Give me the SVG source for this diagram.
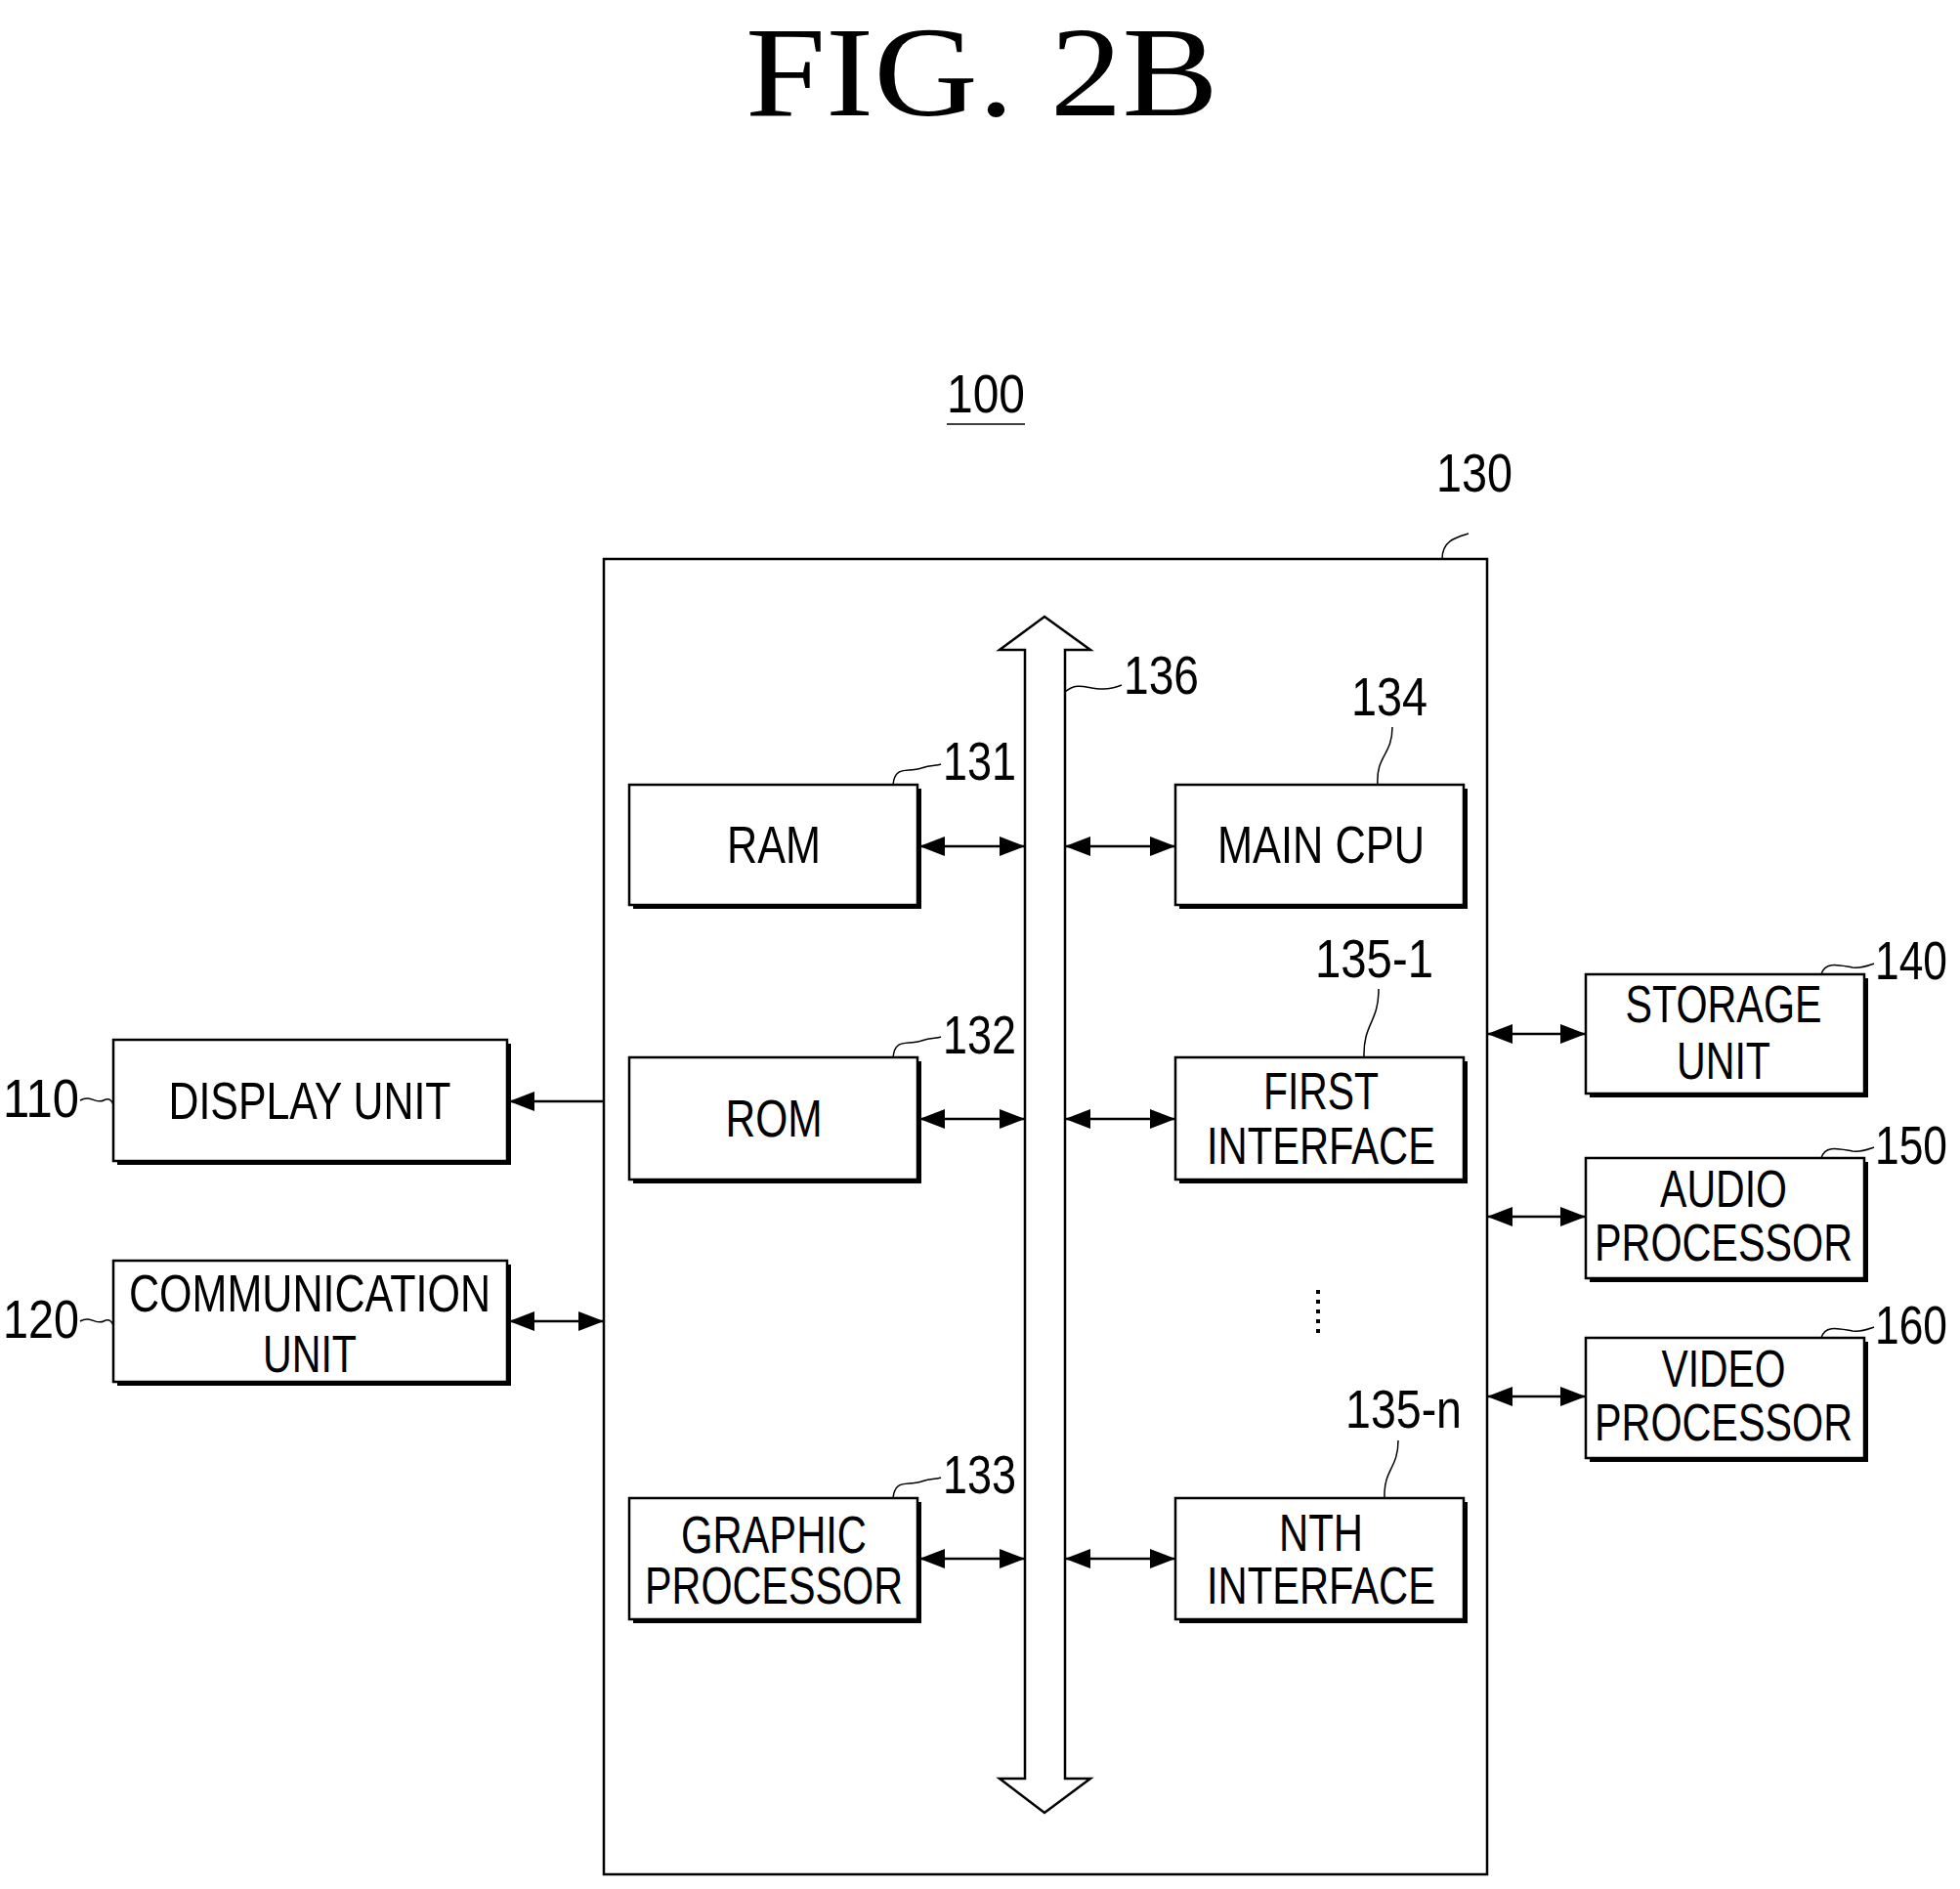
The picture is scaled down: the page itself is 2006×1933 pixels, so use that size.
<svg xmlns="http://www.w3.org/2000/svg" width="2006" height="1933" viewBox="0 0 2006 1933">
<style>
.b{fill:#fff;stroke:#000;stroke-width:2.5}
.s{fill:#000}
.t{font-family:"Liberation Sans",Arial,sans-serif;font-size:54px;fill:#000;text-anchor:middle}
.n{font-family:"Liberation Sans",Arial,sans-serif;font-size:56px;fill:#000}
.c{fill:none;stroke:#000;stroke-width:2.5}
.l{fill:none;stroke:#000;stroke-width:1.5}
</style>
<defs>
<marker id="a" viewBox="0 0 26 20" refX="26" refY="10" markerWidth="26" markerHeight="20" markerUnits="userSpaceOnUse" orient="auto-start-reverse"><path d="M0 0L26 10L0 20z" fill="#000"/></marker>
</defs>
<rect width="2006" height="1933" fill="#fff"/>
<text x="1005" y="118" font-family="Liberation Serif,serif" font-size="132" text-anchor="middle" textLength="484" lengthAdjust="spacingAndGlyphs">FIG.  2B</text>
<g id="n100"><text class="n" x="969" y="422" textLength="80" lengthAdjust="spacingAndGlyphs">100</text><line class="l" x1="969" y1="434" x2="1049" y2="434" stroke-width="2.5"/></g>
<g id="n130"><rect x="618" y="572" width="904" height="1346" class="c"/><path class="l" d="M1476 572C1476 553 1490 550 1503 546"/><text class="n" x="1470" y="503" textLength="78" lengthAdjust="spacingAndGlyphs">130</text></g>
<g id="n136"><path class="b" d="M1069 631L1116 665H1090V1820H1116L1069 1855L1023 1820H1049V665H1023Z"/><path class="l" d="M1090 708C1108 693 1118 713 1148 701"/><text class="n" x="1150" y="710" textLength="77" lengthAdjust="spacingAndGlyphs">136</text></g>
<g id="n131"><rect class="s" x="648" y="807" width="295" height="123"/><rect class="b" x="644" y="803" width="295" height="123"/><text class="t" x="792" y="883" textLength="96" lengthAdjust="spacingAndGlyphs">RAM</text><path class="l" d="M914 803C916 783 928 791 943 786C953 782 958 784 963 782"/><text class="n" x="965" y="798" textLength="75" lengthAdjust="spacingAndGlyphs">131</text></g>
<g id="n132"><rect class="s" x="648" y="1086" width="295" height="125"/><rect class="b" x="644" y="1082" width="295" height="125"/><text class="t" x="792" y="1163" textLength="99" lengthAdjust="spacingAndGlyphs">ROM</text><path class="l" d="M914 1082C916 1062 928 1070 943 1065C953 1061 958 1063 963 1061"/><text class="n" x="965" y="1078" textLength="75" lengthAdjust="spacingAndGlyphs">132</text></g>
<g id="n133"><rect class="s" x="648" y="1537" width="295" height="124"/><rect class="b" x="644" y="1533" width="295" height="124"/><text class="t" x="792" y="1589" textLength="190" lengthAdjust="spacingAndGlyphs">GRAPHIC</text><text class="t" x="792" y="1641" textLength="264" lengthAdjust="spacingAndGlyphs">PROCESSOR</text><path class="l" d="M914 1533C916 1513 928 1521 943 1516C953 1512 958 1514 963 1512"/><text class="n" x="965" y="1528" textLength="75" lengthAdjust="spacingAndGlyphs">133</text></g>
<g id="n134"><rect class="s" x="1207" y="807" width="295" height="123"/><rect class="b" x="1203" y="803" width="295" height="123"/><text class="t" x="1352" y="883" textLength="212" lengthAdjust="spacingAndGlyphs">MAIN CPU</text><path class="l" d="M1410 803C1408 773 1425 773 1425 744"/><text class="n" x="1383" y="732" textLength="78" lengthAdjust="spacingAndGlyphs">134</text></g>
<g id="n135-1"><rect class="s" x="1207" y="1086" width="295" height="125"/><rect class="b" x="1203" y="1082" width="295" height="125"/><text class="t" x="1352" y="1135" textLength="118" lengthAdjust="spacingAndGlyphs">FIRST</text><text class="t" x="1352" y="1191" textLength="234" lengthAdjust="spacingAndGlyphs">INTERFACE</text><path class="l" d="M1396 1082C1395 1047 1411 1047 1411 1012"/><text class="n" x="1346" y="1000" textLength="121" lengthAdjust="spacingAndGlyphs">135-1</text></g>
<g id="dots"><line x1="1349" y1="1320" x2="1349" y2="1364" stroke="#000" stroke-width="4" stroke-dasharray="4 6"/></g>
<g id="n135-n"><rect class="s" x="1207" y="1537" width="295" height="124"/><rect class="b" x="1203" y="1533" width="295" height="124"/><text class="t" x="1352" y="1587" textLength="86" lengthAdjust="spacingAndGlyphs">NTH</text><text class="t" x="1352" y="1641" textLength="234" lengthAdjust="spacingAndGlyphs">INTERFACE</text><path class="l" d="M1417 1533C1416 1503 1431 1503 1431 1474"/><text class="n" x="1377" y="1461" textLength="119" lengthAdjust="spacingAndGlyphs">135-n</text></g>
<g id="n110"><rect class="s" x="120" y="1068" width="403" height="124"/><rect class="b" x="116" y="1064" width="403" height="124"/><text class="t" x="317" y="1145" textLength="289" lengthAdjust="spacingAndGlyphs">DISPLAY UNIT</text><path class="l" d="M82 1126C93 1120 98 1130 106 1126C112 1123 114 1126 116 1130"/><text class="n" x="3" y="1143" textLength="78" lengthAdjust="spacingAndGlyphs">110</text></g>
<g id="n120"><rect class="s" x="120" y="1294" width="403" height="124"/><rect class="b" x="116" y="1290" width="403" height="124"/><text class="t" x="317" y="1342" textLength="370" lengthAdjust="spacingAndGlyphs">COMMUNICATION</text><text class="t" x="317" y="1404" textLength="96" lengthAdjust="spacingAndGlyphs">UNIT</text><path class="l" d="M82 1352C93 1346 98 1356 106 1352C112 1349 114 1352 116 1356"/><text class="n" x="3" y="1369" textLength="78" lengthAdjust="spacingAndGlyphs">120</text></g>
<g id="n140"><rect class="s" x="1627" y="1001" width="285" height="122"/><rect class="b" x="1623" y="997" width="285" height="122"/><text class="t" x="1764" y="1046" textLength="201" lengthAdjust="spacingAndGlyphs">STORAGE</text><text class="t" x="1764" y="1104" textLength="96" lengthAdjust="spacingAndGlyphs">UNIT</text><path class="l" d="M1864 997C1868 983 1883 988 1896 990C1906 991 1912 988 1918 986"/><text class="n" x="1919" y="1002" textLength="74" lengthAdjust="spacingAndGlyphs">140</text></g>
<g id="n150"><rect class="s" x="1627" y="1189" width="285" height="123"/><rect class="b" x="1623" y="1185" width="285" height="123"/><text class="t" x="1764" y="1235" textLength="130" lengthAdjust="spacingAndGlyphs">AUDIO</text><text class="t" x="1764" y="1290" textLength="264" lengthAdjust="spacingAndGlyphs">PROCESSOR</text><path class="l" d="M1864 1185C1868 1171 1883 1176 1896 1178C1906 1179 1912 1176 1918 1174"/><text class="n" x="1919" y="1191" textLength="74" lengthAdjust="spacingAndGlyphs">150</text></g>
<g id="n160"><rect class="s" x="1627" y="1373" width="285" height="123"/><rect class="b" x="1623" y="1369" width="285" height="123"/><text class="t" x="1764" y="1419" textLength="127" lengthAdjust="spacingAndGlyphs">VIDEO</text><text class="t" x="1764" y="1474" textLength="264" lengthAdjust="spacingAndGlyphs">PROCESSOR</text><path class="l" d="M1864 1369C1868 1355 1883 1360 1896 1362C1906 1363 1912 1360 1918 1358"/><text class="n" x="1919" y="1375" textLength="74" lengthAdjust="spacingAndGlyphs">160</text></g>
<g id="connectors" stroke="#000" stroke-width="2.5">
<line x1="941" y1="866" x2="1049" y2="866" marker-start="url(#a)" marker-end="url(#a)"/>
<line x1="1090" y1="866" x2="1203" y2="866" marker-start="url(#a)" marker-end="url(#a)"/>
<line x1="941" y1="1145" x2="1049" y2="1145" marker-start="url(#a)" marker-end="url(#a)"/>
<line x1="1090" y1="1145" x2="1203" y2="1145" marker-start="url(#a)" marker-end="url(#a)"/>
<line x1="941" y1="1595" x2="1049" y2="1595" marker-start="url(#a)" marker-end="url(#a)"/>
<line x1="1090" y1="1595" x2="1203" y2="1595" marker-start="url(#a)" marker-end="url(#a)"/>
<line x1="618" y1="1127" x2="521" y2="1127" marker-end="url(#a)"/>
<line x1="521" y1="1352" x2="618" y2="1352" marker-start="url(#a)" marker-end="url(#a)"/>
<line x1="1522" y1="1058" x2="1623" y2="1058" marker-start="url(#a)" marker-end="url(#a)"/>
<line x1="1522" y1="1245" x2="1623" y2="1245" marker-start="url(#a)" marker-end="url(#a)"/>
<line x1="1522" y1="1429" x2="1623" y2="1429" marker-start="url(#a)" marker-end="url(#a)"/>
</g>
</svg>
